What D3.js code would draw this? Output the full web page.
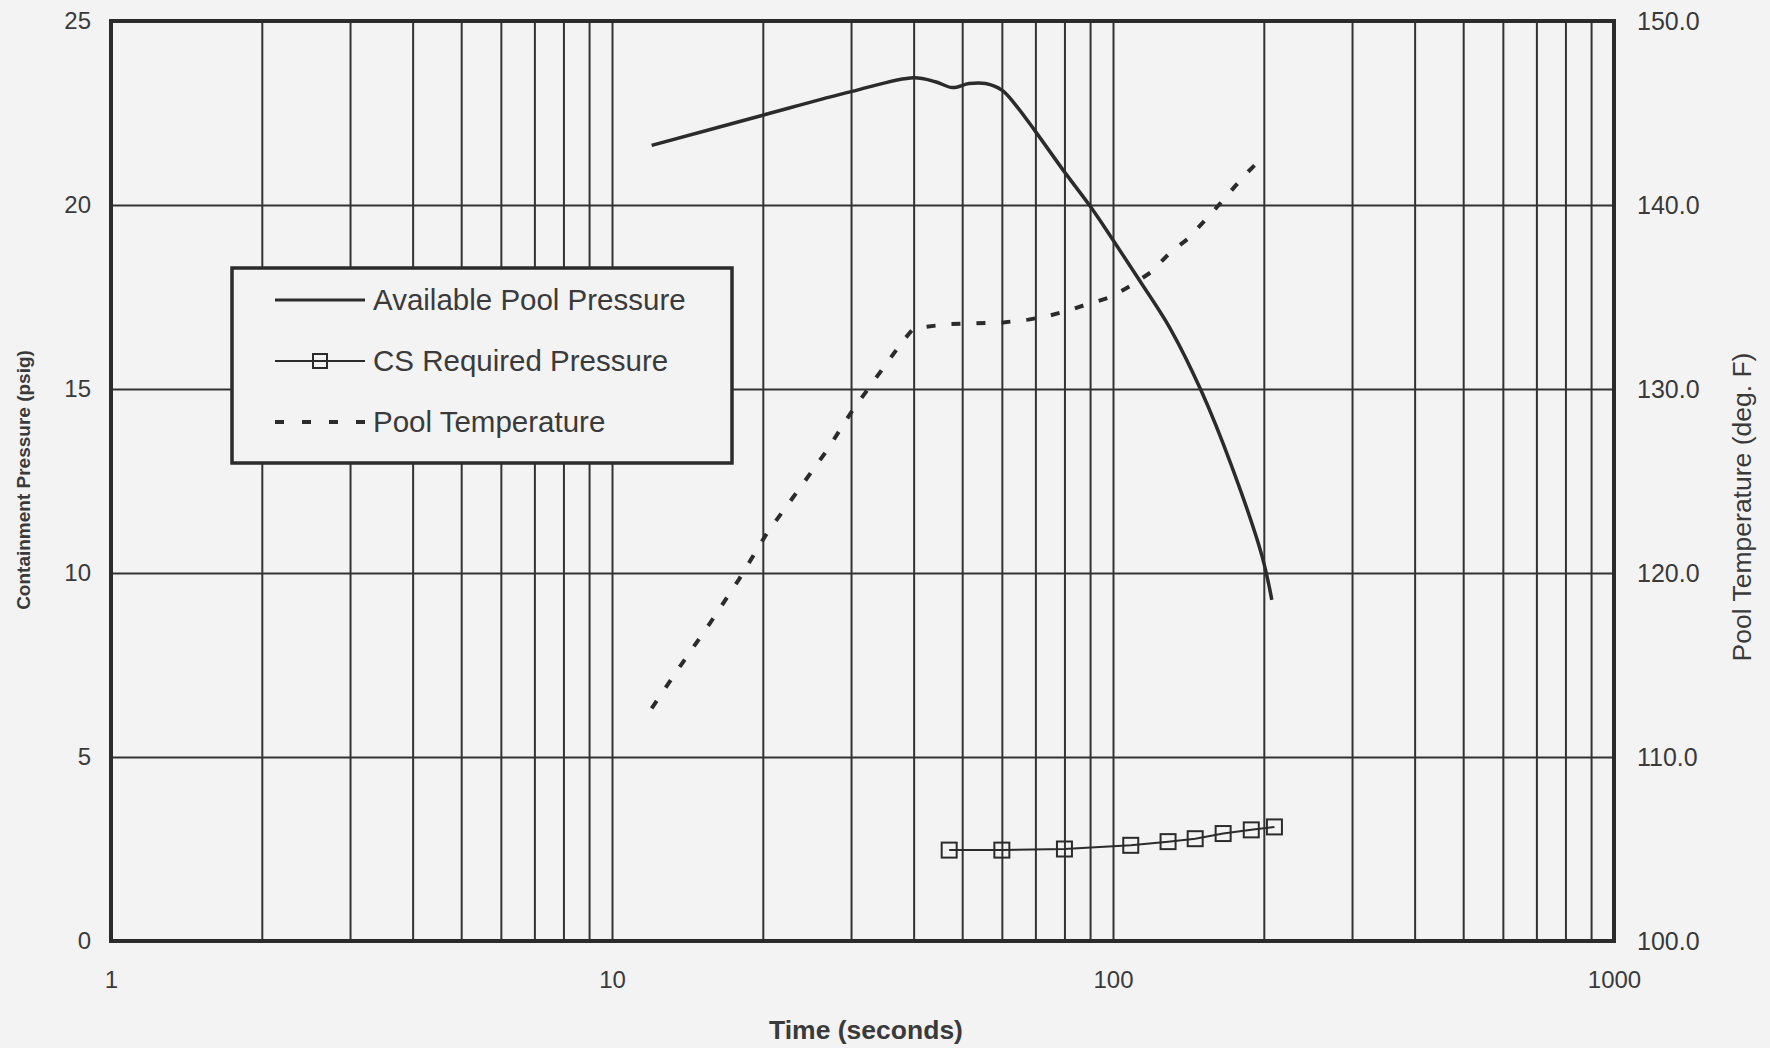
<!DOCTYPE html>
<html>
<head>
<meta charset="utf-8">
<script src="https://cdn.jsdelivr.net/npm/d3@7"></script>
<style>
  body { margin: 0; background: #f3f3f3; }
  text { font-family: "Liberation Sans", Arial, sans-serif; fill: #3a3a3a; }
</style>
</head>
<body>
<div id="chart"></div>
<script>
// Values
const availTime = [12.0, 20, 30, 40, 44.2, 47.8, 51.6, 55.7, 60, 64, 70, 80, 90, 100, 113, 130, 150, 172, 198, 207.5];
const availPressure = [21.62, 22.44, 23.08, 23.46, 23.35, 23.19, 23.30, 23.30, 23.12, 22.71, 22.0, 20.9, 19.97, 19.05, 17.95, 16.65, 14.95, 12.95, 10.5, 9.27];

const csTime = [47.1, 60, 80, 108.5, 128.8, 145.9, 165.9, 188.8, 210];
const csPressure = [2.47, 2.47, 2.50, 2.60, 2.70, 2.78, 2.92, 3.02, 3.10];

const tempTime = [12.0, 13.66, 15.69, 17.9, 20.4, 23.6, 26.8, 30, 33.7, 38.1, 40, 47, 56, 60.4, 67.8, 74.5, 81.4, 88, 98.9, 108.6, 119.1, 130.3, 141, 157, 166.8, 183, 191.8, 204];
const tempValue = [112.64, 114.91, 117.27, 119.63, 122.18, 124.54, 126.63, 128.72, 130.63, 132.62, 133.3, 133.53, 133.59, 133.62, 133.77, 133.98, 134.26, 134.57, 134.99, 135.62, 136.35, 137.44, 138.16, 139.53, 140.34, 141.61, 142.16, 142.56];

const xTickLabels = [1, 10, 100, 1000];
const yTickLabels = [0, 5, 10, 15, 20, 25];
const y2TickLabels = [100, 110, 120, 130, 140, 150];

const legendNames = ["Available Pool Pressure", "CS Required Pressure", "Pool Temperature"];

// Set the dimensions and margins of the graph
const margin = { top: 21, right: 156, bottom: 107, left: 111 },
  width = 1770 - margin.left - margin.right,
  height = 1048 - margin.top - margin.bottom;

const svg = d3.select("#chart")
  .append("svg")
  .attr("width", 1770)
  .attr("height", 1048)
  .append("g")
  .attr("transform", "translate(" + margin.left + "," + margin.top + ")");

const x = d3.scaleLog().domain([1, 1000]).range([0, width]);
const y = d3.scaleLinear().domain([0, 25]).range([height, 0]);
const y2 = d3.scaleLinear().domain([100, 150]).range([height, 0]);

const ink = "#2b2b2b";

// Grid lines
svg.append("g")
  .attr("class", "grid")
  .attr("transform", "translate(0," + height + ")")
  .call(d3.axisBottom(x).tickValues(x.ticks()).tickSize(-height).tickFormat(""))
  .call(g => g.select(".domain").remove())
  .selectAll("line").attr("stroke", "#333").attr("stroke-width", 2);

svg.append("g")
  .attr("class", "grid")
  .call(d3.axisLeft(y).tickValues(yTickLabels).tickSize(-width).tickFormat(""))
  .call(g => g.select(".domain").remove())
  .selectAll("line").attr("stroke", "#333").attr("stroke-width", 2);

// Plot border
svg.append("rect")
  .attr("width", width)
  .attr("height", height)
  .attr("fill", "none")
  .attr("stroke", ink)
  .attr("stroke-width", 4);

// Axes labels
const xAxis = svg.append("g")
  .attr("transform", "translate(0," + height + ")")
  .call(d3.axisBottom(x).tickValues(xTickLabels).tickFormat(d3.format("d")).tickSize(0).tickPadding(30));
xAxis.select(".domain").remove();
xAxis.selectAll("text").style("font-size", "24px").attr("fill", "#3a3a3a");

const yAxis = svg.append("g")
  .call(d3.axisLeft(y).tickValues(yTickLabels).tickSize(0).tickPadding(20));
yAxis.select(".domain").remove();
yAxis.selectAll("text").style("font-size", "24px").attr("fill", "#3a3a3a");

const y2Axis = svg.append("g")
  .attr("transform", "translate(" + width + ",0)")
  .call(d3.axisRight(y2).tickValues(y2TickLabels).tickFormat(d3.format(".1f")).tickSize(0).tickPadding(23));
y2Axis.select(".domain").remove();
y2Axis.selectAll("text").style("font-size", "25px").attr("fill", "#3a3a3a");

// Axis titles
svg.append("text")
  .attr("x", 866 - margin.left)
  .attr("y", 1039 - margin.top)
  .attr("text-anchor", "middle")
  .style("font-size", "26.5px")
  .style("font-weight", "bold")
  .text("Time (seconds)");

svg.append("text")
  .attr("transform", "translate(" + (30 - margin.left) + "," + (480 - margin.top) + ") rotate(-90)")
  .attr("text-anchor", "middle")
  .style("font-size", "19px")
  .style("font-weight", "bold")
  .text("Containment Pressure (psig)");

svg.append("text")
  .attr("transform", "translate(" + (1751 - margin.left) + "," + (507 - margin.top) + ") rotate(-90)")
  .attr("text-anchor", "middle")
  .style("font-size", "26.5px")
  .text("Pool Temperature (deg. F)");

// Series
const availLine = d3.line()
  .x((d, i) => x(availTime[i]))
  .y(d => y(d))
  .curve(d3.curveCatmullRom.alpha(0.5));

svg.append("path")
  .datum(availPressure)
  .attr("fill", "none")
  .attr("stroke", ink)
  .attr("stroke-width", 3.5)
  .attr("d", availLine);

const tempLine = d3.line()
  .x((d, i) => x(tempTime[i]))
  .y(d => y2(d));

svg.append("path")
  .datum(tempValue)
  .attr("fill", "none")
  .attr("stroke", ink)
  .attr("stroke-width", 4)
  .attr("stroke-dasharray", "9,16")
  .attr("d", tempLine);

const csLine = d3.line()
  .x((d, i) => x(csTime[i]))
  .y(d => y(d));

svg.append("path")
  .datum(csPressure)
  .attr("fill", "none")
  .attr("stroke", ink)
  .attr("stroke-width", 2)
  .attr("d", csLine);

svg.append("g")
  .selectAll("rect")
  .data(csPressure)
  .enter()
  .append("rect")
  .attr("x", (d, i) => x(csTime[i]) - 7.5)
  .attr("y", d => y(d) - 7.5)
  .attr("width", 15)
  .attr("height", 15)
  .attr("fill", "none")
  .attr("stroke", ink)
  .attr("stroke-width", 2);

// Legend
const legend = svg.append("g")
  .attr("transform", "translate(" + (232 - margin.left) + "," + (268 - margin.top) + ")");

legend.append("rect")
  .attr("width", 500)
  .attr("height", 195)
  .attr("fill", "#f3f3f3")
  .attr("stroke", ink)
  .attr("stroke-width", 3.5);

const rowY = [32, 93, 154];

legend.append("line")
  .attr("x1", 43).attr("x2", 133).attr("y1", rowY[0]).attr("y2", rowY[0])
  .attr("stroke", ink).attr("stroke-width", 3);

legend.append("line")
  .attr("x1", 43).attr("x2", 133).attr("y1", rowY[1]).attr("y2", rowY[1])
  .attr("stroke", ink).attr("stroke-width", 2);
legend.append("rect")
  .attr("x", 81).attr("y", rowY[1] - 7).attr("width", 14).attr("height", 14)
  .attr("fill", "none").attr("stroke", ink).attr("stroke-width", 2);

legend.append("line")
  .attr("x1", 43).attr("x2", 133).attr("y1", rowY[2]).attr("y2", rowY[2])
  .attr("stroke", ink).attr("stroke-width", 4).attr("stroke-dasharray", "9,18");

legend.selectAll("text.entry")
  .data(legendNames)
  .enter()
  .append("text")
  .attr("class", "entry")
  .attr("x", 141)
  .attr("y", (d, i) => rowY[i])
  .attr("dy", "0.35em")
  .style("font-size", "29.5px")
  .text(d => d);
</script>
</body>
</html>
